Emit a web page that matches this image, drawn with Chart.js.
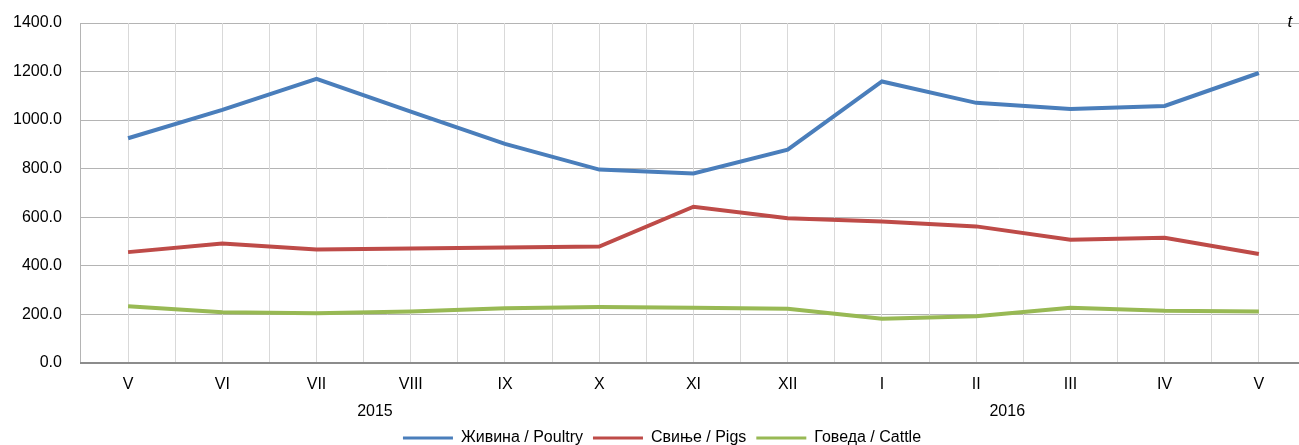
<!DOCTYPE html>
<html>
<head>
<meta charset="utf-8">
<script src="https://cdn.jsdelivr.net/npm/chart.js@4.4.1/dist/chart.umd.min.js"></script>
<style>
  html, body { margin: 0; padding: 0; background: #fff; overflow: hidden; }
  #wrap { width: 1306px; height: 445px; position: relative; }
</style>
</head>
<body>
<div id="wrap"><canvas id="chart"></canvas></div>
<script>
var months = ["V", "VI", "VII", "VIII", "IX", "X", "XI", "XII", "I", "II", "III", "IV", "V"];
var years = ["2015", "2016"];
var yearPos = [2.62, 9.33]; // category index where each year label sits
var poultry = [925, 1042, 1170, 1035, 902, 796, 780, 878, 1159, 1071, 1046, 1058, 1194];
var pigs = [456, 492, 467, 471, 475, 479, 643, 596, 582, 562, 507, 515, 448];
var cattle = [233, 208, 204, 211, 225, 230, 227, 223, 182, 192, 227, 214, 211];
var unitLabel = "t";

var FONT = "'Liberation Sans', Arial, sans-serif";

var extraText = {
    id: "extraText",
    afterLayout: function (chart) {
        // legend sits a little right of centre in the original
        chart.legend.left += 12;
        chart.legend.right += 12;
    },
    afterDraw: function (chart) {
        var ctx = chart.ctx;
        var x = chart.scales.x;
        var y = chart.scales.y;
        ctx.save();
        ctx.fillStyle = "#000";
        ctx.textAlign = "center";
        ctx.textBaseline = "middle";
        ctx.font = "16px " + FONT;
        var yy = x.bottom - 8;
        for (var i = 0; i < years.length; i++) {
            ctx.fillText(years[i], x.getPixelForValue(yearPos[i]), yy);
        }
        ctx.font = "italic 17px " + FONT;
        ctx.fillText(unitLabel, x.getPixelForValue(12.33), y.getPixelForValue(1400) - 1);
        ctx.restore();
    }
};

var ctx = document.getElementById("chart").getContext("2d");

var data = {
    labels: months,
    datasets: [
        {
            label: "Живина / Poultry",
            data: poultry,
            borderColor: "#4A7EBB",
            backgroundColor: "#4A7EBB",
        },
        {
            label: "Свиње / Pigs",
            data: pigs,
            borderColor: "#BE4B48",
            backgroundColor: "#BE4B48",
        },
        {
            label: "Говеда / Cattle",
            data: cattle,
            borderColor: "#98B954",
            backgroundColor: "#98B954",
        },
    ],
};

var options = {
    responsive: true,
    maintainAspectRatio: false,
    animation: false,
    layout: {
        padding: { left: -6, top: 23, right: 0, bottom: -11 },
    },
    elements: {
        line: { borderWidth: 4, tension: 0 },
        point: { radius: 0, hoverRadius: 0 },
    },
    plugins: {
        legend: {
            display: true,
            position: "bottom",
            labels: {
                boxWidth: 50,
                boxHeight: 3,
                padding: 10,
                color: "#000",
                font: { family: FONT, size: 16 },
                generateLabels: function (chart) {
                    return Chart.defaults.plugins.legend.labels.generateLabels(chart).map(function (l) {
                        l.lineWidth = 0;
                        return l;
                    });
                },
            },
        },
        tooltip: { enabled: false },
    },
    scales: {
        y: {
            min: 0,
            max: 1400,
            ticks: {
                stepSize: 200,
                padding: 19,
                color: "#000",
                font: { family: FONT, size: 16 },
                callback: function (value) {
                    return value.toFixed(1);
                },
            },
            grid: { color: "#b4b4b4", drawTicks: false },
            border: { color: "#b4b4b4" },
            afterFit: function (axis) {
                // tick padding is meant to be horizontal only here
                axis.paddingTop = 10;
                axis.paddingBottom = 10;
            },
        },
        x: {
            offset: true,
            ticks: {
                padding: 12,
                color: "#000",
                font: { family: FONT, size: 16 },
                autoSkip: false,
                maxRotation: 0,
            },
            grid: { display: false, drawTicks: false },
            border: { color: "#8c8c8c", width: 2 },
            afterFit: function (axis) {
                axis.height += 14;
            },
        },
        xg: {
            type: "linear",
            position: "top",
            min: -0.5,
            max: 12.5,
            ticks: { display: false, stepSize: 0.5 },
            grid: { color: "#d9d9d9", drawTicks: false },
            border: { display: false },
            afterFit: function (axis) {
                axis.height = 0;
            },
        },
    },
};

var myChart = new Chart(ctx, {
    type: "line",
    data: data,
    options: options,
    plugins: [extraText],
});
</script>
</body>
</html>
